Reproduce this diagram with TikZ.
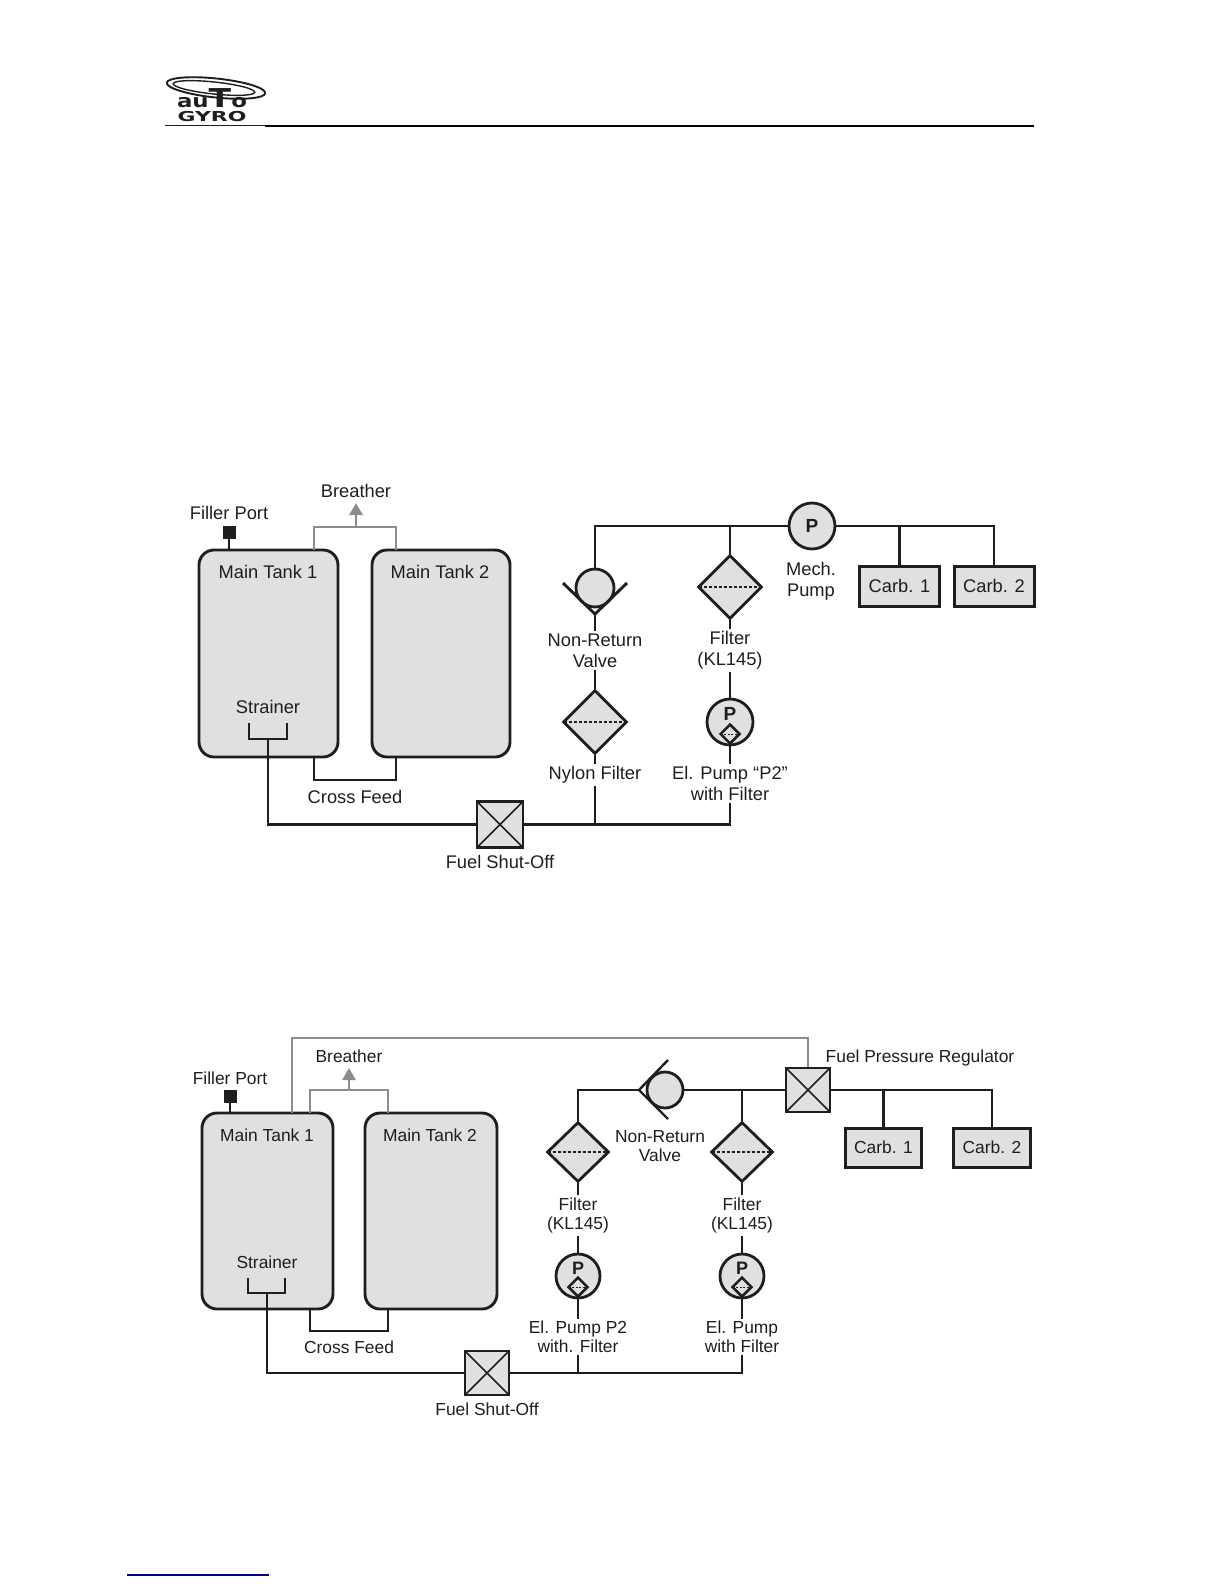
\documentclass[tikz,border=0pt]{standalone}
\usepackage{graphicx}
\usepackage{fontspec}
\setmainfont{Liberation Sans}
\usetikzlibrary{shapes.geometric,arrows.meta}
\definecolor{bodygray}{HTML}{E0E0E0}
\definecolor{ventgray}{HTML}{8C8C8C}
\definecolor{inkblack}{HTML}{1E1E1E}
\begin{document}
\begin{tikzpicture}[
	x=1pt, y=-1pt,
	line/.style={draw=inkblack, line width=2.9pt},
	thinline/.style={draw=inkblack, line width=2.4pt},
	vent/.style={draw=ventgray, line width=2.9pt},
	ventarrow/.style={vent, -{Triangle[length=12pt,width=13pt]}},
	tank/.style={draw=inkblack, line width=2.9pt, fill=bodygray, rectangle, rounded corners=15pt, inner sep=0pt},
	filter/.style={draw=inkblack, line width=2.8pt, fill=bodygray, diamond, aspect=1, inner sep=0pt, minimum width=64pt, minimum height=64pt,
		path picture={\draw[inkblack, line width=1.5pt, dash pattern=on 3pt off 2pt] (path picture bounding box.west) -- (path picture bounding box.east);}},
	minifilter/.style={draw=inkblack, line width=2.5pt, fill=bodygray, diamond, aspect=1, inner sep=0pt, minimum width=20pt, minimum height=20pt,
		path picture={\draw[inkblack, line width=1pt, dash pattern=on 2pt off 1.5pt] (path picture bounding box.west) -- (path picture bounding box.east);}},
	pump/.style={draw=inkblack, line width=2.8pt, fill=bodygray, circle, inner sep=0pt, minimum size=46pt},
	ball/.style={draw=inkblack, line width=2.8pt, fill=bodygray, circle, inner sep=0pt, minimum size=38pt},
	shutoff/.style={draw=inkblack, line width=2.9pt, fill=bodygray, rectangle, inner sep=0pt, minimum size=45pt,
		path picture={\draw[inkblack, line width=1.6pt] (path picture bounding box.north west) -- (path picture bounding box.south east)
			(path picture bounding box.south west) -- (path picture bounding box.north east);}},
	carb/.style={draw=inkblack, line width=3pt, fill=bodygray, rectangle, inner sep=0pt, text=inkblack, font=\fontsize{18.3}{21}\selectfont},
	port/.style={fill=inkblack, rectangle, inner sep=0pt, minimum size=13pt},
	lbl/.style={font=\fontsize{18.3}{21}\selectfont, text=inkblack, align=center, inner xsep=0pt, inner ysep=2pt},
	lblb/.style={font=\fontsize{17.4}{19.5}\selectfont, text=inkblack, align=center, inner xsep=0pt, inner ysep=2pt},
	pmark/.style={font=\fontsize{19}{21}\selectfont\bfseries, text=inkblack, inner sep=0pt},
	]
	
	\useasboundingbox (0,0) rectangle (1224,1584);
	
	\draw[inkblack, line width=1.9pt, rotate around={-6:(216,88)}] (216,88) ellipse [x radius=49.5, y radius=9.5];
	\draw[inkblack, line width=1.4pt, rotate around={-6:(214,88)}] (214,88) ellipse [x radius=41, y radius=6];
	\node[anchor=base, inner sep=0pt, text=inkblack] (autoword) at (212,108) {\scalebox{1.27}[1]{\fontsize{18}{18}\fontspec{DejaVu Sans}\bfseries au\fontsize{26}{26}\selectfont T\fontsize{18}{18}\selectfont o}};
	\node[anchor=base, inner sep=0pt, text=inkblack] (gyroword) at (212,122) {\scalebox{1.6}[1]{\fontsize{13.7}{14}\fontspec{DejaVu Sans}\bfseries GYRO}};
	\coordinate (headstart) at (165,126);
	\coordinate (headmid) at (265,126);
	\coordinate (headend) at (1034,126);
	\draw[inkblack, line width=1pt] (headstart) -- (headmid);
	\draw[black, line width=2pt] (headmid) -- (headend);
	
	\node[tank, minimum width=139pt, minimum height=207pt] (tankA) at (268.5,653.5) {};
	\node[tank, minimum width=138pt, minimum height=207pt] (tankB) at (441,653.5) {};
	\node[lbl] (tankAname) at (268,572) {Main Tank 1};
	\node[lbl] (tankBname) at (440,572) {Main Tank 2};
	\node[lbl] (strainerA) at (268,707) {Strainer};
	\node[lbl] (fillerA) at (229,513) {Filler Port};
	\node[port] (portA) at (229,532.5) {};
	\node[lbl] (breatherA) at (356,491) {Breather};
	\node[lbl] (crossA) at (355,797) {Cross Feed};
	\node[shutoff, minimum size=46pt] (shutA) at (500,824.5) {};
	\node[lbl] (shutAname) at (500,862) {Fuel Shut-Off};
	
	\coordinate (ventAa) at (314,550);
	\coordinate (ventAb) at (396,550);
	\coordinate (ventAtip) at (356,503);
	\coordinate (feedAa) at (314,757);
	\coordinate (feedAb) at (396,757);
	\coordinate (strainAl) at (249,723);
	\coordinate (strainAm) at (268,739);
	\coordinate (strainAr) at (287,723);
	
	\draw[line] (portA) -- (portA |- tankA.north);
	\draw[vent] (ventAa) |- (ventAtip |- 0,527) -| (ventAb);
	\draw[ventarrow] (ventAtip |- 0,527) -- (ventAtip);
	\draw[line] (feedAa) -- ++(0,23) -| (feedAb);
	\draw[line] (strainAl) |- (strainAr |- strainAm) -- (strainAr);
	\draw[line] (strainAm) |- (shutA.west);
	
	\node[pump] (mech) at (812,526) {};
	\node[pmark] (mechP) at (812,526) {P};
	\node[lbl] (mechname) at (811,581) {Mech.\\Pump};
	\node[ball] (nrvA) at (595,588) {};
	\coordinate (nrvAl) at (563,583);
	\coordinate (nrvAtip) at (595,614);
	\coordinate (nrvAr) at (627,583);
	\node[lbl] (nrvAname) at (595,650.5) {Non-Return\\Valve};
	\node[filter] (nylon) at (595,722) {};
	\node[lbl] (nylonname) at (595,775) {Nylon Filter};
	\node[filter] (filterA) at (730,587) {};
	\node[lbl] (filterAname) at (730,650.5) {Filter\\(KL145)};
	\node[pump] (elA) at (730,722) {};
	\node[pmark] (elAP) at (730,714) {P};
	\node[minifilter] (elAf) at (730,734) {};
	\node[lbl] (elAname) at (730,783.5) {El. Pump “P2”\\with Filter};
	\node[carb, minimum width=80pt, minimum height=40pt] (carbA) at (899.5,586) {Carb. 1};
	\node[carb, minimum width=80pt, minimum height=40pt] (carbB) at (994,586) {Carb. 2};
	
	\draw[line] (nrvA.north) |- (mech.west);
	\draw[line] (mech.west -| filterA.north) -- (filterA.north);
	\draw[line] (mech.east) -| (carbB.north);
	\draw[line] (mech.east -| carbA.north) -- (carbA.north);
	\draw[line] (nrvAl) -- (nrvAtip) -- (nrvAr);
	\draw[line] (nrvAtip) -- (nrvAname.north);
	\draw[line] (nrvAname.south) -- (nylon.north);
	\draw[line] (nylon.south) -- (nylonname.north);
	\draw[line] (nylonname.south) -- (nylonname.south |- shutA.east);
	\draw[line] (filterA.south) -- (filterAname.north);
	\draw[line] (filterAname.south) -- (elA.north);
	\draw[line] (elAf.south) -- (elAname.north);
	\draw[line] (elAname.south) |- (shutA.east);
	
	\node[tank, minimum width=131pt, minimum height=196pt] (tankC) at (267.5,1211) {};
	\node[tank, minimum width=132pt, minimum height=196pt] (tankD) at (431,1211) {};
	\node[lblb] (tankCname) at (267,1135) {Main Tank 1};
	\node[lblb] (tankDname) at (430,1135) {Main Tank 2};
	\node[lblb] (strainerC) at (267,1262) {Strainer};
	\node[lblb] (fillerC) at (230,1078) {Filler Port};
	\node[port] (portC) at (230,1096.5) {};
	\node[lblb] (breatherC) at (349,1056) {Breather};
	\node[lblb] (crossC) at (349,1347) {Cross Feed};
	\node[shutoff, minimum size=44pt] (shutC) at (487,1373) {};
	\node[lblb] (shutCname) at (487,1409) {Fuel Shut-Off};
	\node[shutoff, minimum size=44pt] (regul) at (808,1090) {};
	\node[lblb] (regulname) at (920,1058) {Fuel Pressure Regulator};
	
	\coordinate (ventCa) at (310,1113);
	\coordinate (ventCb) at (388,1113);
	\coordinate (ventCtip) at (349,1068);
	\coordinate (returnC) at (292,1113);
	\coordinate (feedCa) at (310,1309);
	\coordinate (feedCb) at (388,1309);
	\coordinate (strainCl) at (248,1278);
	\coordinate (strainCm) at (267,1293);
	\coordinate (strainCr) at (285,1278);
	
	\draw[line] (portC) -- (portC |- tankC.north);
	\draw[vent] (ventCa) |- (ventCtip |- 0,1090) -| (ventCb);
	\draw[ventarrow] (ventCtip |- 0,1090) -- (ventCtip);
	\draw[vent, line width=2.2pt] (returnC) |- (regul.north |- 0,1038) -- (regul.north);
	\draw[line] (feedCa) -- ++(0,22) -| (feedCb);
	\draw[thinline] (strainCl) |- (strainCr |- strainCm) -- (strainCr);
	\draw[thinline] (strainCm) |- (shutC.west);
	
	\node[ball, minimum size=36pt] (nrvC) at (665,1090) {};
	\coordinate (nrvCu) at (668,1060);
	\coordinate (nrvCtip) at (639,1090);
	\coordinate (nrvCd) at (668,1119);
	\node[lblb] (nrvCname) at (660,1146) {Non-Return\\Valve};
	\node[filter, minimum width=62pt, minimum height=60pt] (filterC) at (578,1152) {};
	\node[filter, minimum width=62pt, minimum height=60pt] (filterD) at (742,1152) {};
	\node[lblb] (filterCname) at (578,1215.5) {Filter\\(KL145)};
	\node[lblb] (filterDname) at (742,1215.5) {Filter\\(KL145)};
	\node[pump, minimum size=44pt] (elC) at (578,1276) {};
	\node[pump, minimum size=44pt] (elD) at (742,1276) {};
	\node[pmark, font=\fontsize{18}{19.5}\selectfont\bfseries] (elCP) at (578,1268) {P};
	\node[pmark, font=\fontsize{18}{19.5}\selectfont\bfseries] (elDP) at (742,1268) {P};
	\node[minifilter] (elCf) at (578,1287) {};
	\node[minifilter] (elDf) at (742,1287) {};
	\node[lblb] (elCname) at (578,1337) {El. Pump P2\\with. Filter};
	\node[lblb] (elDname) at (742,1337) {El. Pump\\with Filter};
	\node[carb, font=\fontsize{17.4}{19.5}\selectfont, minimum width=76pt, minimum height=39pt] (carbC) at (883.5,1147.5) {Carb. 1};
	\node[carb, font=\fontsize{17.4}{19.5}\selectfont, minimum width=77pt, minimum height=39pt] (carbD) at (992,1147.5) {Carb. 2};
	
	\draw[thinline] (filterC.north) |- (nrvCtip);
	\draw[thinline] (nrvCu) -- (nrvCtip) -- (nrvCd);
	\draw[thinline] (nrvC.east) -- (regul.west);
	\draw[thinline] (regul.west -| filterD.north) -- (filterD.north);
	\draw[thinline] (regul.east) -| (carbD.north);
	\draw[thinline] (regul.east -| carbC.north) -- (carbC.north);
	\draw[thinline] (filterC.south) -- (filterCname.north);
	\draw[thinline] (filterD.south) -- (filterDname.north);
	\draw[thinline] (filterCname.south) -- (elC.north);
	\draw[thinline] (filterDname.south) -- (elD.north);
	\draw[thinline] (elCf.south) -- (elCname.north);
	\draw[thinline] (elDf.south) -- (elDname.north);
	\draw[thinline] (elCname.south) -- (elCname.south |- shutC.east);
	\draw[thinline] (elDname.south) |- (shutC.east);
	
	\coordinate (footstart) at (127,1575);
	\coordinate (footend) at (269,1575);
	\draw[blue!50!black, line width=1.3pt] (footstart) -- (footend);
	
\end{tikzpicture}
\end{document}
